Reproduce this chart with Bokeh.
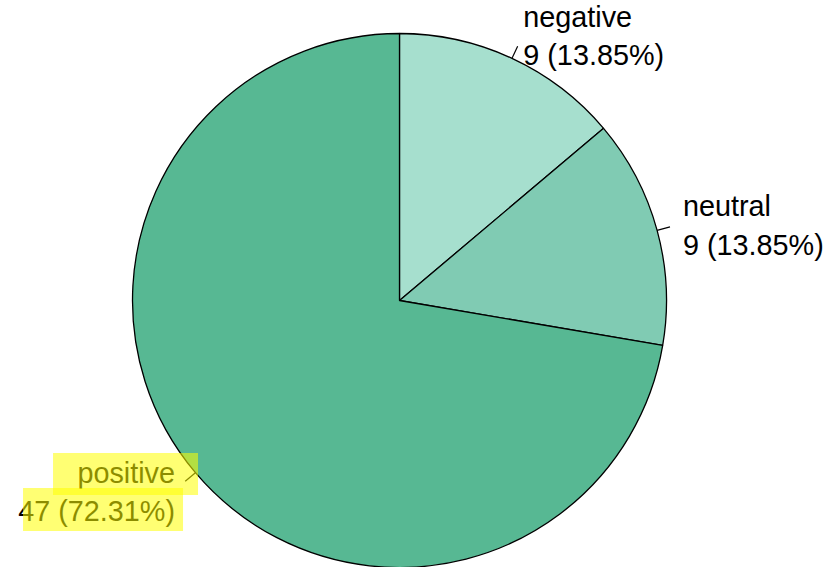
import numpy as np
from bokeh.plotting import figure
from bokeh.models import Range1d, ColumnDataSource
from bokeh.embed import file_html
from bokeh.resources import INLINE
from bokeh.core.properties import value

# Sentiment counts
labels = ["negative", "neutral", "positive"]
counts = [9, 9, 47]
colors = ["#a6dfce", "#80cbb3", "#57b893"]

W, H = 825, 567
R_PX = 267          # pie radius in pixels
CX, CY = 399, 300   # pie centre in pixels

p = figure(width=W, height=H,
           x_range=Range1d(-CX / R_PX, (W - CX) / R_PX),
           y_range=Range1d(-(H - CY) / R_PX, CY / R_PX),
           x_axis_type=None, y_axis_type=None,
           output_backend="svg", toolbar_location=None,
           min_border=0, min_border_left=0, min_border_right=0,
           min_border_top=0, min_border_bottom=0)
p.grid.visible = False
p.outline_line_color = None
p.background_fill_color = "white"
p.border_fill_color = "white"

counts_arr = np.array(counts, dtype=float)
total = counts_arr.sum()
frac = counts_arr / total
cum = np.concatenate([[0.0], np.cumsum(frac)])
start = np.pi / 2 - 2 * np.pi * cum[:-1]
end = np.pi / 2 - 2 * np.pi * cum[1:]
mid = (start + end) / 2

src = ColumnDataSource(dict(start=start, end=end, color=colors))
p.wedge(x=0, y=0, radius=1.0, start_angle="start", end_angle="end",
        direction="clock", fill_color="color", line_color="black",
        line_width=1.3, source=src)

# leader ticks, as base R pie() draws them
cx, cy = np.cos(mid), np.sin(mid)
p.segment(x0=cx, y0=cy, x1=1.05 * cx, y1=1.05 * cy,
          line_color="black", line_width=1.2)

texts = [f"{lab}\n{int(c)} ({100 * c / total:.2f}%)" for lab, c in zip(labels, counts)]
lx, ly = 1.1 * cx, 1.1 * cy
aligns = ["left" if x >= 0 else "right" for x in lx]
tsrc = ColumnDataSource(dict(x=lx, y=ly, text=texts, align=aligns))
p.text(x="x", y="y", text="text", text_align="align", text_baseline="middle",
       y_offset=2,
       text_font=value("Liberation Sans"), text_font_size="28.8px",
       text_line_height=1.2, text_color="black", source=tsrc)

# highlighter strokes over the "positive" label
i = labels.index("positive")
ax, ay = lx[i], ly[i]
px = 1.0 / R_PX
boxes = [(-122, 23, -37, 5), (-152, 8, -2, 41)]  # pixel offsets from label anchor
p.quad(left=[ax + b[0] * px for b in boxes],
       right=[ax + b[1] * px for b in boxes],
       top=[ay - b[2] * px for b in boxes],
       bottom=[ay - b[3] * px for b in boxes],
       fill_color="#ffff00", fill_alpha=0.55, line_color=None)

open("out.html", "w").write(file_html(p, INLINE))
